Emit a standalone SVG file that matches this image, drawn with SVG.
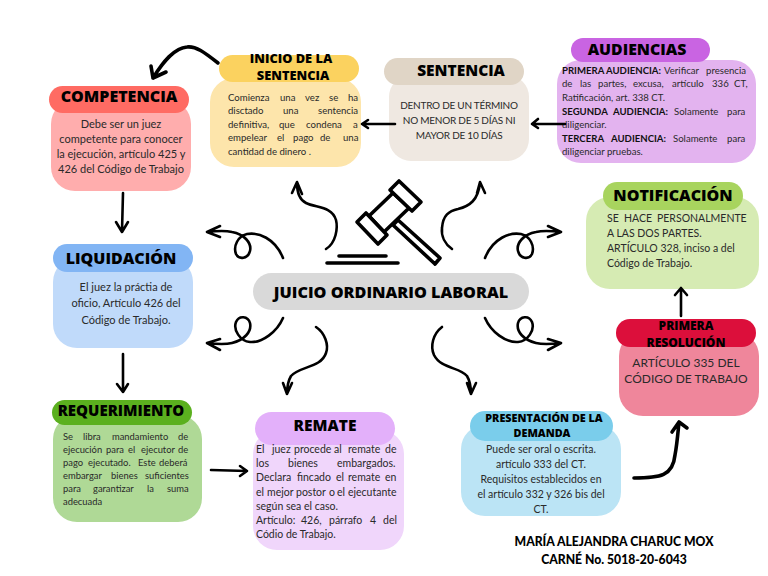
<svg xmlns="http://www.w3.org/2000/svg" width="768" height="576" viewBox="0 0 768 576">
<style>
.h{font-family:"Open Sans","DejaVu Sans",sans-serif;font-weight:800;fill:#000;text-anchor:middle}
.b{font-family:Lato,"Liberation Sans",sans-serif;fill:#2a2a2a;font-size:10.5px}
.m{text-anchor:middle}
.k{font-weight:700;fill:#111}
.a{fill:none;stroke:#000;stroke-width:2.6;stroke-linecap:round;stroke-linejoin:round}
.t{stroke-width:3.6}
.g{fill:#fff;stroke:#000;stroke-width:3.6;stroke-linejoin:round}
.f{font-family:Lato,sans-serif;font-weight:900;font-size:12.2px}
</style>
<rect width="768" height="576" fill="#fff"/>
<g id="competencia">
<rect x="51" y="100" width="140" height="91" rx="24" fill="#FFADAD"/>
<rect x="49" y="86" width="140" height="27" rx="13.5" fill="#FF6B63"/>
<text class="h" x="119" y="102" font-size="16">COMPETENCIA</text>
<g class="b m" style="font-size:11px"><text x="121" y="128">Debe ser un juez</text><text x="121" y="143">competente para conocer</text><text x="121" y="158">la ejecución, artículo 425 y</text><text x="121" y="173">426  del Código de Trabajo</text></g>
</g>
<g id="inicio">
<rect x="210" y="78" width="151" height="89" rx="24" fill="#FDE5AB"/>
<rect x="219" y="55" width="140" height="27" rx="13.5" fill="#FBD25F"/>
<text class="h" font-size="12.8" x="291" y="63">INICIO DE LA</text><text class="h" font-size="12.8" x="293" y="80">SENTENCIA</text>
<text class="b" style="font-size:9.6px"><tspan x="228" y="101">Comienza</tspan><tspan x="280">una</tspan><tspan x="305">vez</tspan><tspan x="329">se</tspan><tspan x="348">ha</tspan><tspan x="228" y="114">disctado</tspan><tspan x="283">una</tspan><tspan x="318">sentencia</tspan><tspan x="228" y="128">definitiva,</tspan><tspan x="279">que</tspan><tspan x="306">condena</tspan><tspan x="353">a</tspan><tspan x="228" y="141">empelear</tspan><tspan x="277">el</tspan><tspan x="293">pago</tspan><tspan x="320">de</tspan><tspan x="343">una</tspan><tspan x="228" y="155">cantidad de dinero .</tspan></text>
</g>
<g id="sentencia">
<rect x="389" y="75" width="140" height="86" rx="22" fill="#EFE8E1"/>
<rect x="384" y="58" width="140" height="27" rx="13.5" fill="#E0D5C6"/>
<text class="h" x="461" y="76" font-size="15.5">SENTENCIA</text>
<g class="b m" style="font-size:10px;letter-spacing:-.25px"><text x="459" y="109">DENTRO DE UN TÉRMINO</text><text x="459" y="124">NO MENOR DE 5 DÍAS NI</text><text x="459" y="139">MAYOR DE 10 DÍAS</text></g>
</g>
<g id="audiencias">
<rect x="557" y="60" width="199" height="103" rx="24" fill="#E3B3EF"/>
<rect x="571" y="38" width="139" height="24" rx="12" fill="#C964E2"/>
<text class="h" x="637" y="55" font-size="15.8">AUDIENCIAS</text>
<text class="b" style="font-size:9.6px"><tspan x="562" y="74" class="k">PRIMERA</tspan><tspan x="606" class="k">AUDIENCIA:</tspan><tspan x="664">Verificar</tspan><tspan x="706">presencia</tspan><tspan x="562" y="87">de</tspan><tspan x="580">las</tspan><tspan x="598">partes,</tspan><tspan x="633">excusa,</tspan><tspan x="672">artículo</tspan><tspan x="712">336</tspan><tspan x="734">CT,</tspan><tspan x="562" y="101">Ratificación, art. 338 CT.</tspan><tspan x="562" y="115" class="k">SEGUNDA</tspan><tspan x="613" class="k">AUDIENCIA:</tspan><tspan x="674">Solamente</tspan><tspan x="727">para</tspan><tspan x="562" y="128">diligenciar.</tspan><tspan x="562" y="142" class="k">TERCERA</tspan><tspan x="611" class="k">AUDIENCIA:</tspan><tspan x="673">Solamente</tspan><tspan x="727">para</tspan><tspan x="562" y="155">diligenciar pruebas.</tspan></text>
</g>
<g id="notificacion">
<rect x="586" y="197" width="173" height="92" rx="24" fill="#D6EBB3"/>
<rect x="603" y="182" width="140" height="28" rx="14" fill="#A8D45E"/>
<text class="h" x="673" y="201" font-size="16">NOTIFICACIÓN</text>
<text class="b"><tspan x="607" y="222">SE</tspan><tspan x="624">HACE</tspan><tspan x="657">PERSONALMENTE</tspan><tspan x="607" y="237">A LAS DOS PARTES.</tspan><tspan x="607" y="252">ARTÍCULO 328, inciso a del</tspan><tspan x="607" y="267">Código de Trabajo.</tspan></text>
</g>
<g id="primera-resolucion">
<rect x="619" y="332" width="140" height="84" rx="24" fill="#EF869B"/>
<rect x="616" y="319" width="140" height="28" rx="14" fill="#DC0F3B"/>
<text class="h" x="686" y="330" font-size="12">PRIMERA</text><text class="h" x="686" y="347" font-size="12">RESOLUCIÓN</text>
<g class="b m" style="font-size:12px"><text x="686" y="367">ARTÍCULO 335 DEL</text><text x="686" y="383">CÓDIGO DE TRABAJO</text></g>
</g>
<g id="presentacion">
<rect x="461" y="425" width="160" height="91" rx="24" fill="#BBE4F5"/>
<rect x="470" y="411" width="143" height="30" rx="15" fill="#7ACDEB"/>
<text class="h" x="544" y="422" font-size="10.8">PRESENTACIÓN DE LA</text><text class="h" x="542" y="437" font-size="10.8">DEMANDA</text>
<g class="b m"><text x="541" y="453">Puede ser oral o escrita.</text><text x="541" y="468">artículo 333 del CT.</text><text x="541" y="483">Requisitos establecidos en</text><text x="541" y="498">el artículo 332 y 326 bis del</text><text x="541" y="513">CT.</text></g>
</g>
<g id="remate">
<rect x="253" y="430" width="151" height="120" rx="24" fill="#F0D6FB"/>
<rect x="255" y="412" width="140" height="33" rx="16.5" fill="#E3B0FA"/>
<text class="h" x="325" y="431" font-size="15.5">REMATE</text>
<text class="b"><tspan x="256" y="453">El</tspan><tspan x="272">juez</tspan><tspan x="294">procede</tspan><tspan x="334">al</tspan><tspan x="348">remate</tspan><tspan x="385">de</tspan><tspan x="256" y="467">los</tspan><tspan x="288">bienes</tspan><tspan x="337">embargados.</tspan><tspan x="256" y="481">Declara</tspan><tspan x="297">fincado</tspan><tspan x="336">el</tspan><tspan x="348">remate</tspan><tspan x="385">en</tspan><tspan x="256" y="496">el</tspan><tspan x="267">mejor</tspan><tspan x="296">postor</tspan><tspan x="329">o</tspan><tspan x="337">el</tspan><tspan x="348">ejecutante</tspan><tspan x="256" y="510">según sea el caso.</tspan><tspan x="256" y="524">Artículo:</tspan><tspan x="301">426,</tspan><tspan x="329">párrafo</tspan><tspan x="370">4</tspan><tspan x="383">del</tspan><tspan x="256" y="538">Códio de Trabajo.</tspan></text>
</g>
<g id="requerimiento">
<rect x="53" y="415" width="149" height="107" rx="24" fill="#AFD996"/>
<rect x="52" y="400" width="140" height="25" rx="12.5" fill="#5BB01F"/>
<text class="h" x="121" y="416" font-size="15">REQUERIMIENTO</text>
<text class="b" style="font-size:9.4px"><tspan x="63" y="440">Se</tspan><tspan x="83">libra</tspan><tspan x="112">mandamiento</tspan><tspan x="178">de</tspan><tspan x="63" y="453">ejecución</tspan><tspan x="106">para</tspan><tspan x="128">el</tspan><tspan x="141">ejecutor</tspan><tspan x="178">de</tspan><tspan x="63" y="466">pago</tspan><tspan x="88">ejecutado.</tspan><tspan x="138">Este</tspan><tspan x="159">deberá</tspan><tspan x="63" y="479">embargar</tspan><tspan x="111">bienes</tspan><tspan x="145">suficientes</tspan><tspan x="63" y="492">para</tspan><tspan x="93">garantizar</tspan><tspan x="147">la</tspan><tspan x="167">suma</tspan><tspan x="63" y="505">adecuada</tspan></text>
</g>
<g id="liquidacion">
<rect x="53" y="258" width="140" height="90" rx="24" fill="#C0DAFA"/>
<rect x="53" y="244" width="140" height="28" rx="14" fill="#82B5F4"/>
<text class="h" x="121" y="264" font-size="16">LIQUIDACIÓN</text>
<g class="b m" style="font-size:11px"><text x="126" y="291">El juez la práctia de</text><text x="126" y="307">oficio, Artículo 426 del</text><text x="126" y="324">Código de Trabajo.</text></g>
</g>
<g id="juicio">
<rect x="253" y="273" width="276" height="37" rx="18.5" fill="#D9D9D9"/>
<text class="h" x="391" y="298" font-size="16.2">JUICIO ORDINARIO LABORAL</text>
</g>
<g id="mazo">
<path class="g" d="M398 220L440 258L435 264L393 225Z"/>
<path class="g" d="M393 193L409 208L384 232L369 216Z"/>
<path class="g" d="M399 181L421 202L412 211L390 190Z"/>
<path class="g" d="M366 213L387 235L378 244L357 222Z"/>
<path class="a t" d="M339 256H386M327 263H398"/>
</g>
<g id="conectores">
<path class="a t" d="M218 63C204 52 196 46 187 47C174 48 163 62 153 78M151 66L153 78L166 72"/>
<path class="a" d="M123 193L122 231M116 222L122 232L128 222"/>
<path class="a" d="M123 354V392M117 384L123 392L128 384"/>
<path class="a" d="M211 470L247 471M240 466L247 471L240 476"/>
<path class="a t" d="M634 478C660 478 673 476 675 455C677 445 678 432 679 422M672 432L679 422L687 428"/>
<path class="a" d="M681 316V288M675 295L681 288L687 295"/>
<path class="a" d="M565 124H532M538 119L532 124L538 128"/>
<path class="a" d="M395 124H362M368 120L362 124L368 128"/>
<path class="a" d="M326 249C336 243 338 228 336 220C332 206 316 208 306 203C298 199 297 190 297 183M292 193L297 182L302 194"/>
<path class="a" d="M452 249C445 244 441 236 442 228C443 215 449 211 458 209C470 206 478 200 480 183M477 193L480 182L485 193"/>
<path class="a" d="M283 258C275 238 258 232 247 234C238 236 233 246 236 254C239 260 248 259 250 251C252 243 244 234 232 232C224 230 215 231 207 232M220 226L207 232L220 237"/>
<path class="a" d="M485 258C493 238 510 232 521 234C530 236 535 246 532 254C529 260 520 259 518 251C516 243 524 234 536 232C544 230 553 231 561 232M548 226L561 232L548 237"/>
<path class="a" d="M283 318C277 332 262 343 250 342C240 341 233 330 236 322C239 315 248 316 250 323C252 332 244 340 232 343C224 345 215 344 207 343M220 339L207 343L220 350"/>
<path class="a" d="M485 318C491 332 506 343 518 342C528 341 535 330 532 322C529 315 520 316 518 323C516 332 524 340 536 343C544 345 553 344 561 343M548 339L561 343L548 350"/>
<path class="a" d="M316 327C325 333 329 345 326 353C321 368 300 366 291 376C288 381 287 388 287 394M283 383L287 394L292 383"/>
<path class="a" d="M442 327C433 334 430 346 434 355C441 369 460 367 467 376C470 381 471 388 471 394M467 383L471 394L476 383"/>
</g>
<g id="autora">
<text class="h f" x="614" y="546">MARÍA ALEJANDRA CHARUC MOX</text>
<text class="h f" x="614" y="564">CARNÉ No. 5018-20-6043</text>
</g>
</svg>
